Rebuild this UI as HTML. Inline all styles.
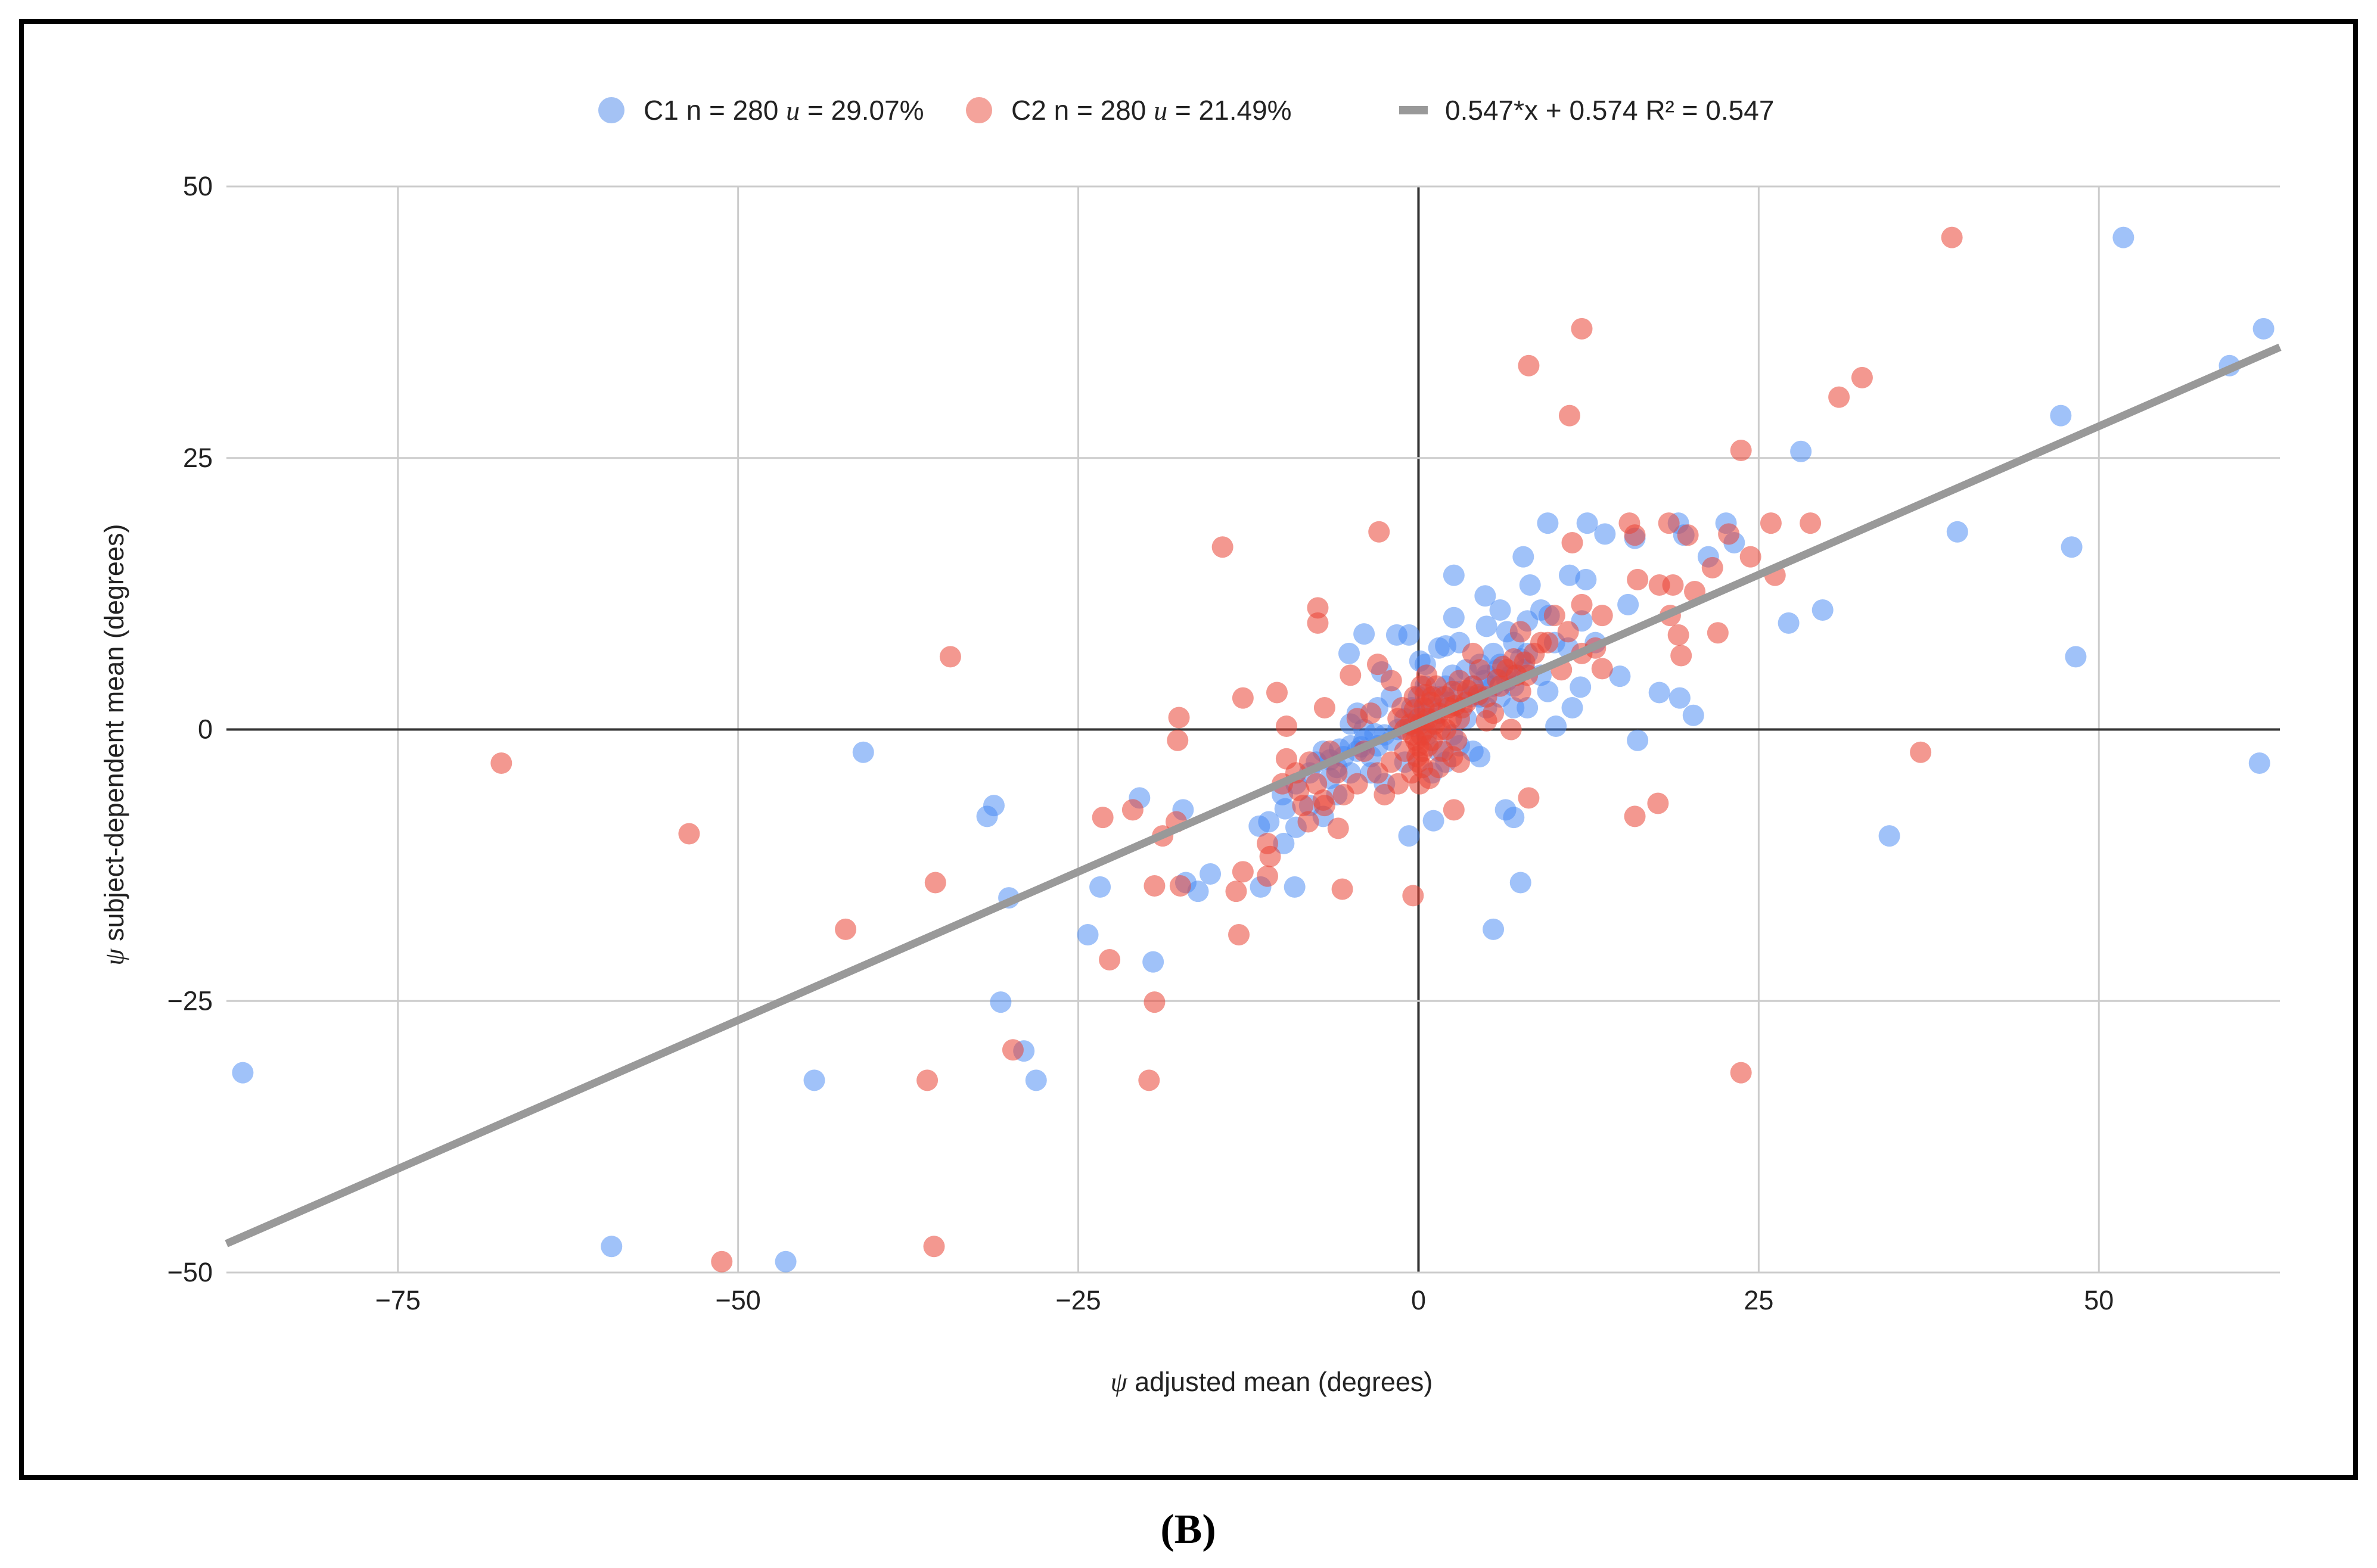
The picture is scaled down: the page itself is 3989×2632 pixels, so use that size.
<!DOCTYPE html>
<html><head><meta charset="utf-8"><style>
html,body{margin:0;padding:0;background:#fff;}
svg{display:block;font-family:"Liberation Sans",Arial,sans-serif;}
</style></head><body>
<svg id="chart" width="3989" height="2632" viewBox="0 0 3989 2632">
<rect x="36" y="36" width="3917" height="2444" fill="#fff" stroke="#000" stroke-width="8"/>
<g id="grid"></g>
<g id="ticks"></g>
<g id="pts"></g>
<g id="trend"></g>
<g>
 <g><circle cx="1026" cy="185" r="22" fill="#a4c2f4"/><text x="1080" y="201" font-size="46" fill="#222">C1 n = 280 <tspan font-family="Liberation Serif" font-style="italic">u</tspan> = 29.07%</text></g>
 <g><circle cx="1643" cy="185" r="22" fill="#f4a39b"/><text x="1697" y="201" font-size="46" fill="#222">C2 n = 280 <tspan font-family="Liberation Serif" font-style="italic">u</tspan> = 21.49%</text></g>
 <g><rect x="2348" y="178" width="48" height="14" fill="#999"/><text x="2425" y="201" font-size="46" fill="#222">0.547*x + 0.574 R² = 0.547</text></g>
</g>
<text x="2134" y="2335" font-size="45" text-anchor="middle" fill="#222"><tspan font-family="Liberation Serif" font-style="italic">ψ</tspan> adjusted mean (degrees)</text>
<text transform="translate(207,1250) rotate(-90)" font-size="45" text-anchor="middle" fill="#222"><tspan font-family="Liberation Serif" font-style="italic">ψ</tspan> subject-dependent mean (degrees)</text>
<text x="1994" y="2590" font-size="70" font-weight="bold" font-family="Liberation Serif" text-anchor="middle" fill="#000">(B)</text>
</svg>
<script>
const xTicks=[-75,-50,-25,0,25,50];
const yTicks=[-50,-25,0,25,50];
const slope=0.547, intercept=0.574;
const c1=[[-86.4,-31.6],[-59.3,-47.6],[-46.5,-49],[-44.4,-32.3],[-40.8,-2.1],[-31.7,-8],[-31.2,-7],[-30.1,-15.5],[-30.7,-25.1],[-29,-29.6],[-28.1,-32.3],[-24.3,-18.9],[-23.4,-14.5],[-20.5,-6.3],[-19.5,-21.4],[-17.3,-7.4],[-17.1,-14.1],[-16.2,-14.9],[-15.3,-13.3],[-11.7,-8.9],[-11.6,-14.5],[-9.9,-10.5],[-9.1,-14.5],[-9.8,-7.3],[-5.1,7],[-4,8.8],[-2.7,5.3],[-1.6,8.7],[-0.7,8.7],[0.1,6.3],[-0.7,-9.8],[1.1,-8.4],[5.5,-18.4],[7.5,-14.1],[7,-8.1],[6.4,-7.4],[2.6,14.2],[2.6,10.3],[4.9,12.3],[7.7,15.9],[9.5,19],[8.2,13.3],[9.6,10.5],[11.1,14.2],[12.3,13.8],[12.4,19],[13.7,18],[14.8,4.9],[15.4,11.5],[15.9,17.6],[16.1,-1],[17.7,3.4],[19.1,19],[19.2,2.9],[19.5,17.9],[20.2,1.3],[21.3,15.9],[22.6,19],[23.2,17.2],[27.2,9.8],[28.1,25.6],[29.7,11],[34.6,-9.8],[39.6,18.2],[47.2,28.9],[48,16.8],[48.3,6.7],[51.8,45.3],[59.6,33.5],[62.1,36.9],[61.8,-3.1],[10.1,0.3],[11.3,2],[11.9,3.9],
[-9,-5],[-8,-4],[-7.5,-3],[-7,-2],[-6.5,-4.5],[-6,-3.5],[-5.5,-2.5],[-5,-1.5],[-4.5,-2],[-4,-1],[-3.5,-2.5],[-3,-1.5],[-2.5,-0.5],[-2,-1],[-1.5,0],[-1,1],[-0.5,2],[0,3],[0.5,4],[1,2],[1.5,3],[2,4],[2.5,5],[3,3.5],[3.5,5.5],[4,4],[4.5,6],[5,5],[5.5,7],[6,6],[6.5,4.5],[7,8],[7.5,6.5],[8,7],[9,5],[10,8],[11,7.5],[4,-2],[3,-1.5],[5,2],[6,3],[7,2],[2,-3],[1,-4],[-1,-3],[-2,3],[-3,2],[-4,0],[-5,-4],[-6,-6],[-8,-7],[-10,-6],[-11,-8.5],[3,8],[5,9.5],[6,11],[8,10],[9,11],[7,4],[4.5,3],[3.5,1],[2.5,-0.5],[1.5,-2],[-5,0.5],[-4.5,1.5],[6.5,9],[12,10],[13,8],[-7,-8],[-9,-9],[0.5,6],[1.5,7.5],[2,7.7],[4.5,-2.5],[5.5,4],[-2.5,-5],[-3.5,-4],[8,2],[9.5,3.5],[-6.5,-2.8],[-5.8,-1.8],[-4.2,-1.6],[-3.2,-0.4],[0.3,1.5],[1.2,1],[2.2,2.5],[3.8,3],[4.8,4.5],[5.8,5.5],[6.8,5],[7.8,5.5],[0.6,-0.5],[-0.4,0.3]];
const c2=[[-67.4,-3.1],[-53.6,-9.6],[-51.2,-49],[-42.1,-18.4],[-36.1,-32.3],[-35.6,-47.6],[-35.5,-14.1],[-34.4,6.7],[-29.8,-29.5],[-23.2,-8.1],[-22.7,-21.2],[-21,-7.4],[-19.8,-32.3],[-19.4,-25.1],[-19.4,-14.4],[-18.8,-9.8],[-17.8,-8.5],[-17.7,-1],[-17.6,1.1],[-17.5,-14.4],[-14.4,16.8],[-13.4,-14.9],[-13.2,-18.9],[-12.9,2.9],[-12.9,-13.1],[-11.1,-13.5],[-11.1,-10.5],[-10.9,-11.7],[-10.4,3.4],[-9.7,0.3],[-9.7,-2.7],[-8.8,-5.6],[-8.1,-8.5],[-7.4,11.2],[-7.4,9.8],[-6.9,2],[-6.9,-7],[-5.9,-9.1],[-5.6,-14.7],[-2.9,18.2],[-0.4,-15.3],[2.6,-7.4],[8.1,33.5],[8.1,-6.3],[11.1,28.9],[12,36.9],[11.3,17.2],[12,11.5],[13.5,10.5],[13.5,5.6],[15.5,19],[15.9,17.9],[16.1,13.8],[15.9,-8],[17.6,-6.8],[17.7,13.3],[18.4,19],[18.5,10.5],[18.7,13.3],[19.1,8.7],[19.3,6.8],[19.8,17.9],[20.3,12.7],[21.6,14.9],[22,8.9],[22.8,18],[23.7,25.7],[23.7,-31.6],[24.4,15.9],[25.9,19],[26.2,14.2],[28.8,19],[30.9,30.6],[32.6,32.4],[36.9,-2.1],[39.2,45.3],
[-0.5,-4],[0,-3],[0.3,-2],[-0.2,-1],[0.5,0],[0,1],[0.4,2],[-0.3,3],[0.2,4],[0.6,5],[1,-1],[1.2,0.5],[1.5,1.5],[1,3],[-1,0],[-1,-2],[-1.2,2],[0.8,-4.5],[1.8,-2],[2,0],[2.2,2],[2.5,3.5],[3,4.5],[3,1],[3.5,2.5],[2.8,-1],[4,4],[4.5,5.5],[5,3],[5.5,1.5],[6,4],[6.5,5.5],[7,6.5],[7.5,3.5],[8,5],[8.5,7],[9.5,8],[10.5,5.5],[11,9],[12,7],[13,7.5],[6.8,0],[5,0.8],[-2,-3],[-3,-4],[-4,-2],[-4.5,-5],[-5.5,-6],[-6,-4],[-6.5,-2],[-7,-6.5],[-7.5,-5],[-8,-3],[-8.5,-7],[-9,-4],[-10,-5],[-3.5,1.5],[-4.5,1],[-5,5],[-2.5,-6],[-1.5,-5],[-3,6],[-2,4.5],[10,10.5],[9,8],[7.5,9],[4,7],[3,-3],[2.5,-2.5],[1.5,-3.5],[0,-1.5],[0.7,1],[-0.6,0.5],[1.3,4],[-1.5,1],[0.2,-0.5],[0.9,2.5],[1.6,0],[2.4,1],[3.2,2],[0.1,0.5],[-0.1,-2.5],[0.3,-3.5],[0.7,-1.5],[-0.3,1.8],[0.5,3.2],[1.9,3],[2.7,2.2],[3.6,3.6],[4.4,3.2],[6.2,5.8],[7.2,5],[7.8,6.2],[5.8,4.6],[0.1,-5],[-0.4,-0.5]];
const NS='http://www.w3.org/2000/svg';
const L=380,R=3826,T=313,B=2136,xMin=-87.6,xMax=63.3,yMin=-50,yMax=50;
function sx(v){return L+(v-xMin)/(xMax-xMin)*(R-L);}
function sy(v){return B-(v-yMin)/(yMax-yMin)*(B-T);}
function mk(tag,attrs,parent){const e=document.createElementNS(NS,tag);for(const k in attrs)e.setAttribute(k,attrs[k]);parent.appendChild(e);return e;}
const grid=document.getElementById('grid'),ticks=document.getElementById('ticks');
xTicks.forEach(t=>{
 const ln=mk('line',{x1:sx(t),x2:sx(t),y1:T,y2:B,stroke:t===0?'#333':'#ccc','stroke-width':t===0?4:3},grid);
 
 
 const tx=mk('text',{x:sx(t),y:B+62,'font-size':45,'text-anchor':'middle',fill:'#222'},ticks);
 tx.textContent=t<0?'\u2212'+(-t):String(t);
 
 
});
yTicks.forEach(t=>{
 const ln=mk('line',{x1:L,x2:R,y1:sy(t),y2:sy(t),stroke:t===0?'#333':'#ccc','stroke-width':t===0?4:3},grid);
 
 
 const tx=mk('text',{x:357,y:sy(t)+15,'font-size':45,'text-anchor':'end',fill:'#222'},ticks);
 tx.textContent=t<0?'\u2212'+(-t):String(t);
 
 
});
const pts=document.getElementById('pts');
c1.forEach(p=>{
 const c=mk('circle',{cx:sx(p[0]),cy:sy(p[1]),r:18,fill:'rgba(66,133,244,0.5)'},pts);
 
 
});
c2.forEach(p=>{
 const c=mk('circle',{cx:sx(p[0]),cy:sy(p[1]),r:18,fill:'rgba(234,67,53,0.55)'},pts);
 
 
});
const tl=mk('line',{x1:sx(xMin),y1:sy(slope*xMin+intercept),x2:sx(xMax),y2:sy(slope*xMax+intercept),stroke:'#999','stroke-width':13},document.getElementById('trend'));


</script>
</body></html>
